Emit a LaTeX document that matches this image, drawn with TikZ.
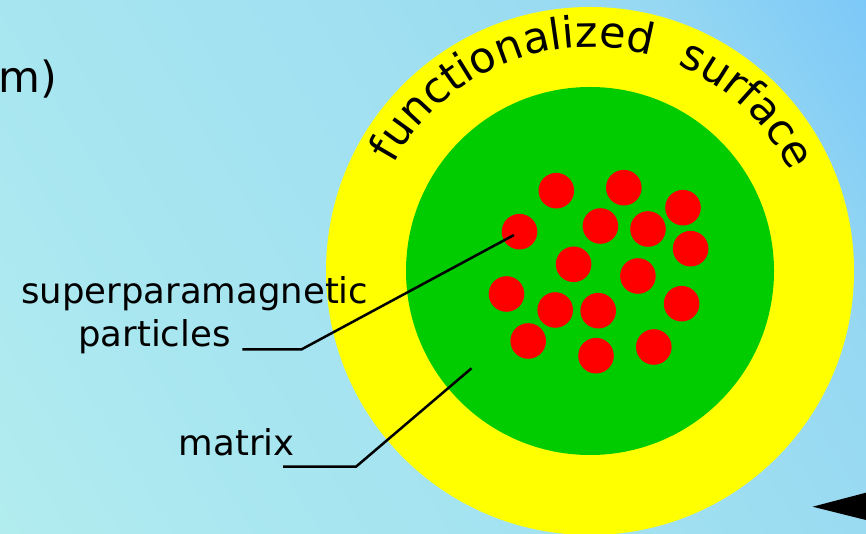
\documentclass[tikz,border=0pt]{standalone}
\usepackage{fontspec}
\setmainfont{DejaVu Sans}
\usetikzlibrary{decorations.text}
\definecolor{bgA}{RGB}{124,200,248}
\definecolor{bgB}{RGB}{150,216,242}
\definecolor{bgC}{RGB}{160,224,241}
\definecolor{bgD}{RGB}{168,230,240}
\definecolor{bgE}{RGB}{178,236,239}
\definecolor{matrixgreen}{RGB}{0,204,0}
\definecolor{dotred}{RGB}{255,0,0}
\definecolor{surfyellow}{RGB}{255,255,0}
\pgfdeclarehorizontalshading{bgaxis}{2400bp}{color(0bp)=(bgA); color(180bp)=(bgB); color(450bp)=(bgC); color(760bp)=(bgD); color(1017bp)=(bgE); color(1200bp)=(bgE)}
\begin{document}
\begin{tikzpicture}[x=1pt,y=1pt,
  dot/.style={circle,fill=dotred,minimum size=35.6pt,inner sep=0pt},
  leader/.style={draw=black,line width=2.5pt},
  lbl/.style={inner sep=0pt,font=\fontsize{35.5}{40}\selectfont},
  arctext/.style={decorate,decoration={text along path,text align=left,text={|\fontsize{43}{48}\selectfont|#1}}}]
\useasboundingbox (0,0) rectangle (866,534);
\begin{scope}
\clip (0,0) rectangle (866,534);
\node[rotate=211.66,anchor=west,inner sep=0pt,outer sep=0pt] (bg) at (866,534) {\pgfuseshading{bgaxis}};
\node[circle,fill=surfyellow,minimum size=528pt,inner sep=0pt] (surf) at (590,263) {};
\node[circle,fill=matrixgreen,minimum size=368pt,inner sep=0pt] (core) at (590,263) {};
\fill[black] (812.7,27.3) -- (880,45) -- (880,10.5) -- cycle;
\end{scope}
\coordinate (C) at (590,263);
\path[arctext={functionalized}] (C) ++(151.5:224) arc[start angle=151.5,end angle=60,radius=224];
\path[arctext={surface}] (C) ++(67:224) arc[start angle=67,end angle=10,radius=224];
\node[dot] (d1) at (556.3,343.3) {};
\node[dot] (d2) at (623.8,346.3) {};
\node[dot] (d3) at (683,326.3) {};
\node[dot] (d4) at (519.5,302.3) {};
\node[dot] (d5) at (600.4,308) {};
\node[dot] (d6) at (648,305) {};
\node[dot] (d7) at (690.6,285.3) {};
\node[dot] (d8) at (573.6,269.7) {};
\node[dot] (d9) at (637.9,258) {};
\node[dot] (d10) at (506.5,240) {};
\node[dot] (d11) at (555.2,224) {};
\node[dot] (d12) at (598.2,223.3) {};
\node[dot] (d13) at (681.6,230.3) {};
\node[dot] (d14) at (528.2,193) {};
\node[dot] (d15) at (596,178.3) {};
\node[dot] (d16) at (653.8,187) {};
\node[lbl,anchor=base west] (sp) at (21,230.7) {superparamagnetic};
\node[lbl,anchor=base west] (pa) at (78,187.3) {particles};
\node[lbl,anchor=base west] (mx) at (178.7,78.3) {matrix};
\node[inner sep=0pt,font=\fontsize{43}{48}\selectfont,anchor=base east] (nm) at (57,441.3) {m)};
\coordinate (pA) at (242.3,184.7);
\coordinate (pB) at (301.7,184.7);
\coordinate (pC) at (514,299);
\draw[leader] (pA) -- (pB) -- (pC);
\coordinate (mA) at (283,67.3);
\coordinate (mB) at (356,67.3);
\coordinate (mC) at (471.5,165.7);
\draw[leader] (mA) -- (mB) -- (mC);
\end{tikzpicture}
\end{document}
